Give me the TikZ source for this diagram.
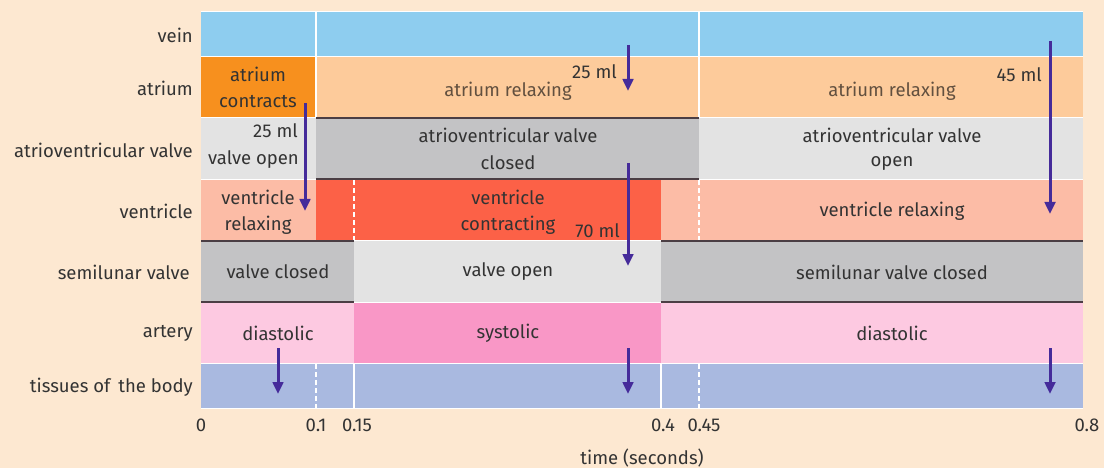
\documentclass[tikz,border=0pt]{standalone}
\usepackage{fontspec}
\setmainfont{Fira Sans}
\usetikzlibrary{arrows.meta}
\definecolor{bg}{HTML}{FDE8D1}
\definecolor{veinc}{HTML}{8ECDEF}
\definecolor{atrc}{HTML}{F7901E}
\definecolor{atrr}{HTML}{FDCB9B}
\definecolor{vopen}{HTML}{E3E3E3}
\definecolor{vclosed}{HTML}{C3C3C5}
\definecolor{ventr}{HTML}{FCBCA6}
\definecolor{ventc}{HTML}{FC6147}
\definecolor{dias}{HTML}{FDC9E1}
\definecolor{syst}{HTML}{F997C6}
\definecolor{tiss}{HTML}{A9B9E0}
\definecolor{arrc}{HTML}{452B9A}
\definecolor{darkl}{HTML}{4B3E44}
\definecolor{txt}{HTML}{333333}
\definecolor{brtxt}{HTML}{62503F}
\tikzset{
  cell/.style={rectangle, inner sep=0pt, outer sep=0pt, anchor=north west, draw=none},
  lbl/.style={font=\fontsize{18.5}{22}\selectfont, text=txt, inner sep=0pt},
  rowlbl/.style={lbl, anchor=east},
  flow/.style={draw=arrc, line width=3pt, -{Triangle[width=10.5pt,length=12pt]}},
  valveline/.style={draw=darkl, line width=2pt},
  sepline/.style={draw=white, line width=1.2pt},
  sepdash/.style={draw=white, line width=1.2pt, dash pattern=on 5pt off 3pt},
}
\begin{document}
\begin{tikzpicture}[x=1pt,y=-1pt]
\useasboundingbox (0,0) rectangle (1104,468);
\fill[bg] (0,0) rectangle (1104,468);
\fill[white] (201,11) rectangle (1083,409);
% vein
\fill[veinc] (201,12) rectangle (1083,56);
% atrium
\fill[atrc] (201,57) rectangle (316,117);
\fill[atrr] (316,57) rectangle (1083,117);
% AV valve
\fill[vopen] (201,118) rectangle (316,179);
\fill[vclosed] (316,118) rectangle (699,179);
\fill[vopen] (699,118) rectangle (1083,179);
% ventricle
\fill[ventr] (201,180) rectangle (316,240);
\fill[ventc] (316,180) rectangle (661,240);
\fill[ventr] (661,180) rectangle (1083,240);
% semilunar
\fill[vclosed] (201,241) rectangle (354,302);
\fill[vopen] (354,241) rectangle (661,302);
\fill[vclosed] (661,241) rectangle (1083,302);
% artery
\fill[dias] (201,303) rectangle (354,363);
\fill[syst] (354,303) rectangle (661,363);
\fill[dias] (661,303) rectangle (1083,363);
% tissues
\fill[tiss] (201,364) rectangle (1083,408);
% white separators
\draw[sepline] (316,12) -- (316,56);
\draw[sepline] (699,12) -- (699,56);
\draw[sepline] (316,57) -- (316,117);
\draw[sepline] (699,57) -- (699,117);
\draw[sepdash] (354,180) -- (354,240);
\draw[sepdash] (699,180) -- (699,240);
\draw[sepline] (354,364) -- (354,408);
\draw[sepline] (661,364) -- (661,408);
\draw[sepdash] (316,364) -- (316,408);
\draw[sepdash] (699,364) -- (699,408);
% valve lines
\draw[valveline] (316,118) -- (699,118);
\draw[valveline] (316,179) -- (699,179);
\draw[valveline] (201,241) -- (354,241);
\draw[valveline] (201,302) -- (354,302);
\draw[valveline] (661,241) -- (1083,241);
\draw[valveline] (661,302) -- (1083,302);
% row labels
\node[rowlbl] (lvein) at (193,35) {vein};
\node[rowlbl] (latr) at (193,88) {atrium};
\node[rowlbl] (lav) at (193,150) {atrioventricular valve};
\node[rowlbl] (lvent) at (193,211) {ventricle};
\node[rowlbl] (lsemi) at (190,272) {semilunar valve};
\node[rowlbl] (lart) at (193,333) {artery};
\node[rowlbl] (ltis) at (193,387) {tissues of\ \,the body};
% cell texts
\node[lbl] (t1a) at (258,74) {atrium};
\node[lbl] (t1b) at (258,102) {contracts};
\node[lbl, text=brtxt] (t2) at (508,91) {atrium relaxing};
\node[lbl, text=brtxt] (t3) at (892,91) {atrium relaxing};
\node[lbl, anchor=east] (ml1) at (298,131) {25 ml};
\node[lbl, anchor=east] (vo1) at (299,160) {valve open};
\node[lbl] (av1) at (508,135) {atrioventricular valve};
\node[lbl] (av2) at (508,163) {closed};
\node[lbl] (av3) at (892,135) {atrioventricular valve};
\node[lbl] (av4) at (892,163) {open};
\node[lbl] (vr1) at (258,197) {ventricle};
\node[lbl] (vr2) at (258,225) {relaxing};
\node[lbl] (vc1) at (508,197) {ventricle};
\node[lbl] (vc2) at (508,225) {contracting};
\node[lbl] (vr3) at (892,211) {ventricle relaxing};
\node[lbl] (s1) at (278,272) {valve closed};
\node[lbl] (s2) at (508,272) {valve open};
\node[lbl] (s3) at (892,272) {semilunar valve closed};
\node[lbl] (a1) at (278,333) {diastolic};
\node[lbl] (a2) at (508,333) {systolic};
\node[lbl] (a3) at (892,333) {diastolic};
\node[lbl, anchor=east] (ml2) at (617,72) {25 ml};
\node[lbl, anchor=east] (ml3) at (620,231) {70 ml};
\node[lbl, anchor=east] (ml4) at (1042,75) {45 ml};
% axis
\node[lbl] (x0) at (201,425) {0};
\node[lbl] (x1) at (316,425) {0.1};
\node[lbl] (x2) at (357,425) {0.15};
\node[lbl] (x3) at (663,425) {0.4};
\node[lbl] (x4) at (704,425) {0.45};
\node[lbl] (x5) at (1087,425) {0.8};
\node[lbl] (xt) at (642,458) {time (seconds)};
% arrows
\coordinate (a1s) at (305,103); \coordinate (a1e) at (305,211);
\coordinate (a2s) at (628,45);  \coordinate (a2e) at (628,91);
\coordinate (a3s) at (628,163); \coordinate (a3e) at (628,266);
\coordinate (a4s) at (1050,41); \coordinate (a4e) at (1050,214);
\coordinate (b1s) at (278,348); \coordinate (b1e) at (278,394);
\coordinate (b2s) at (628,348); \coordinate (b2e) at (628,394);
\coordinate (b3s) at (1050,348); \coordinate (b3e) at (1050,394);
\draw[flow] (a1s) -- (a1e);
\draw[flow] (a2s) -- (a2e);
\draw[flow] (a3s) -- (a3e);
\draw[flow] (a4s) -- (a4e);
\draw[flow] (b1s) -- (b1e);
\draw[flow] (b2s) -- (b2e);
\draw[flow] (b3s) -- (b3e);
\end{tikzpicture}
\end{document}
